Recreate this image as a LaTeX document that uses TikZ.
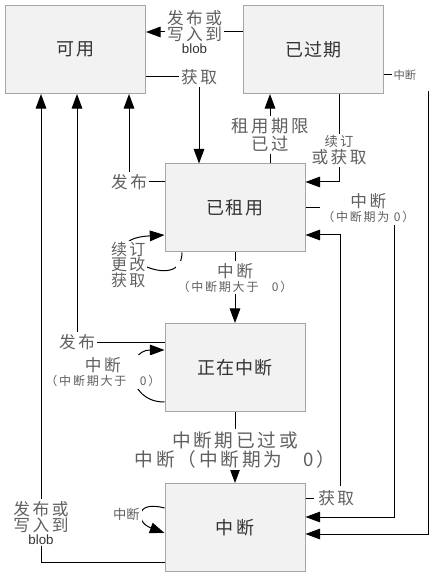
\documentclass[tikz,border=0pt]{standalone}
\usepackage{fontspec}
\setmainfont{Noto Sans CJK SC}
\newfontfamily\lf[LetterSpace=15]{Noto Sans CJK SC}
\newfontfamily\boxfont[LetterSpace=6]{Noto Sans CJK SC}
\newfontfamily\latinsf{Liberation Sans}
\usetikzlibrary{arrows.meta}
\definecolor{boxfill}{HTML}{F2F2F2}
\definecolor{boxline}{HTML}{A6A6A6}
\definecolor{lblc}{HTML}{606060}
\definecolor{boxtext}{HTML}{333333}
\newcommand{\bigf}{\lf\fontsize{12.5}{12.5}\selectfont}
\newcommand{\smf}{\lf\fontsize{9}{11}\selectfont}
\newcommand{\blobtxt}{{\latinsf\fontsize{10}{11}\selectfont\color{boxtext}blob}}
\tikzset{
  state/.style={draw=boxline, fill=boxfill, line width=0.75pt, minimum width=105pt,
    minimum height=66pt, inner sep=0pt, text=boxtext, font=\boxfont\fontsize{13.5}{16}\selectfont},
  arr/.style={-{Triangle[length=11pt,width=8pt]}, line width=0.75pt},
  lbl/.style={fill=white, inner sep=1.5pt, text=lblc, align=center, font=\bigf},
}
\begin{document}
\begin{tikzpicture}[x=0.75pt,y=-0.75pt]
\useasboundingbox (0,0) rectangle (434,580);
\node[state] (avail) at (75.5,49.5) {可\,用};
\node[state] (exp)   at (313.5,49.5) {已过期};
\node[state] (rent)  at (235,208) {已租用};
\node[state] (susp)  at (235,367.5) {正在中断};
\node[state] (out)   at (235,527.5) {中\,断};

% expired -> available
\draw[arr] (exp.west |- 0,32) -- node[lbl,font=\lf\fontsize{12.5}{10.5}\selectfont]{发布或\\写入到\\[-1pt]\blobtxt} (avail.east |- 0,32);
% available -> leased
\draw[arr] (avail.east |- 0,77) -| node[pos=0.5,lbl]{获取} (rent.north -| 199,0);
% leased -> expired
\draw[arr] (rent.north -| 270,0) -- node[pos=0.41,lbl,font=\lf\fontsize{13}{13.5}\selectfont]{租用期限\\已过} (exp.south -| 270,0);
% expired -> leased
\draw[arr] (exp.south -| 339,0) |- node[pos=0.32,lbl]{{\lf\fontsize{10}{11}\selectfont 续订}\\或获取} (rent.east |- 0,182);
% expired -> broken
\draw[arr] (exp.east |- 0,75) -- node[pos=0.61, fill=white, text=lblc, inner xsep=1pt,
   text width=26pt, align=left, minimum height=24pt, font=\fontsize{8.5}{10}\selectfont]{中断} (428,75) -- (428,534) -- (out.east |- 0,534);
% leased -> available
\draw[arr] (rent.west |- 0,182) -| node[pos=0.5,lbl]{发布} (avail.south -| 129,0);
% leased -> broken (period 0)
\draw[arr] (rent.east |- 0,208) -- node[pos=0.71,lbl,font=\lf\fontsize{12.5}{10.5}\selectfont]{中断\\{\smf （中断期为 0）}} (394,208) -- (394,517) -- (out.east |- 0,517);
% broken -> leased
\draw[arr] (out.east |- 0,498) -- node[pos=0.89,lbl,inner sep=3pt]{获取} (340,498) -- (340,235) -- (rent.east |- 0,235);
% leased self loop
\draw[arr] (rent.south -| 182,0) .. controls (182,300) and (80,240) .. node[pos=0.5,lbl,align=left,xshift=-10pt,yshift=-1pt,inner sep=1pt,font=\lf\fontsize{12}{11.5}\selectfont]{续订\\更改\\获取} (rent.west |- 0,235);
% leased -> breaking
\draw[arr] (rent.south) -- node[pos=0.36,lbl,font=\lf\fontsize{12.5}{10.5}\selectfont]{中断\\{\smf （中断期大于\ \ \ 0）}} (susp.north);
% breaking -> available
\draw[arr] (susp.west |- 0,342) -| node[pos=0.5,lbl]{发布} (avail.south -| 77,0);
% breaking self loop
\draw[arr] (susp.west |- 0,402) .. controls (125,402) and (125,350) .. node[pos=0.5,lbl,xshift=-24pt,yshift=3pt,font=\lf\fontsize{12.5}{10.5}\selectfont]{中断\\{\smf （中断期大于\ \ \ 0）}} (susp.west |- 0,350);
% breaking -> broken
\draw[arr] (susp.south) -- node[pos=0.53,lbl,font=\lf\fontsize{14}{11}\selectfont]{中断期已过或\\中断（中断期为\ \ \ 0）} (out.north);
% broken -> available
\draw[arr] (out.west |- 0,562) -| node[pos=0.542,lbl,font=\lf\fontsize{12.5}{10.5}\selectfont]{发布或\\写入到\\[-1pt]\blobtxt} (avail.south -| 41,0);
% broken self loop
\draw[arr] (out.west |- 0,508) .. controls (135,500) and (135,522) .. node[pos=0.5,lbl,xshift=-12pt,yshift=-1pt,font=\fontsize{10}{11}\selectfont]{中断} (out.west |- 0,533);
\end{tikzpicture}
\end{document}
